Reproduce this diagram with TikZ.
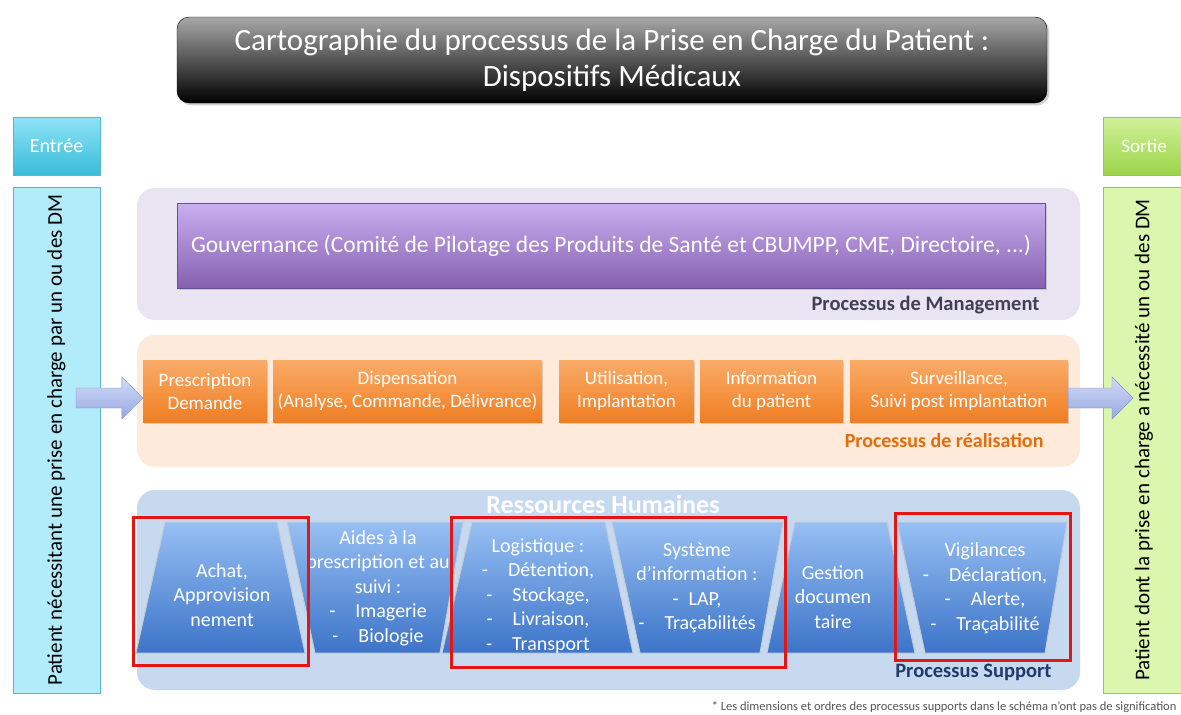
\documentclass[tikz,border=0pt]{standalone}
\usepackage{fontspec}
\setmainfont{Carlito}
\usepackage{tikz}
\usetikzlibrary{calc,shadows,positioning}

\definecolor{titletop}{HTML}{A8A8A8}
\definecolor{inedge}{HTML}{58B7CC}
\definecolor{infill}{HTML}{B2ECFA}
\definecolor{entreetop}{HTML}{8FE3F6}
\definecolor{entreebot}{HTML}{38BCD9}
\definecolor{outedge}{HTML}{98C45A}
\definecolor{outfill}{HTML}{DBF6AD}
\definecolor{sortietop}{HTML}{CFF19A}
\definecolor{sortiebot}{HTML}{9DD44A}
\definecolor{mgtband}{HTML}{E9E4F1}
\definecolor{realband}{HTML}{FDEADB}
\definecolor{suppband}{HTML}{C7D9EF}
\definecolor{gouvtop}{HTML}{C9AFF0}
\definecolor{gouvbot}{HTML}{8660B0}
\definecolor{gouvedge}{HTML}{6B4F94}
\definecolor{oratop}{HTML}{F9AB68}
\definecolor{orabot}{HTML}{F07E22}
\definecolor{supptop}{HTML}{97BFF3}
\definecolor{suppbot}{HTML}{3C74C8}
\definecolor{gapgray}{HTML}{C3CBD6}
\definecolor{arrowtop}{HTML}{D2DAF6}
\definecolor{arrowbot}{HTML}{98A9E2}
\definecolor{arrowedge}{HTML}{8193CC}
\definecolor{mgttext}{HTML}{403F55}
\definecolor{realtext}{HTML}{E46C0A}
\definecolor{supptext}{HTML}{1F3A6B}
\definecolor{redline}{HTML}{E31515}
\definecolor{notegray}{HTML}{555555}

\tikzset{
  titlebox/.style={rounded corners=12pt, draw=black, top color=titletop, bottom color=black,
    text=white, align=center, minimum width=870pt, minimum height=86pt,
    font=\fontsize{31}{36}\selectfont, drop shadow={opacity=0.35}},
  headin/.style={draw=inedge, top color=entreetop, bottom color=entreebot, text=white,
    minimum width=87pt, minimum height=58pt, font=\fontsize{20}{22}\selectfont},
  headout/.style={draw=outedge, top color=sortietop, bottom color=sortiebot, text=white,
    minimum width=82pt, minimum height=58pt, font=\fontsize{19}{22}\selectfont},
  sidebox/.style={rotate=90, minimum width=506pt, font=\fontsize{21}{24}\selectfont},
  band/.style={rounded corners=18pt, minimum width=943pt},
  gouvbox/.style={draw=gouvedge, top color=gouvtop, bottom color=gouvbot, text=white,
    minimum width=868pt, minimum height=85pt, font=\fontsize{23.5}{27}\selectfont,
    drop shadow={opacity=0.3}},
  realbox/.style={top color=oratop, bottom color=orabot, text=white, align=center,
    minimum height=62pt, inner sep=1pt, font=\fontsize{19}{23}\selectfont,
    drop shadow={opacity=0.25, shadow xshift=1pt, shadow yshift=-1.5pt}},
  supp/.style={top color=supptop, bottom color=suppbot, draw=gapgray, line width=1pt},
  supplabel/.style={text=white, align=center, inner sep=0pt, font=\fontsize{20}{24.5}\selectfont},
  bandlabel/.style={anchor=east, font=\fontsize{20.5}{22}\selectfont\bfseries},
  redbox/.style={draw=redline, line width=3pt},
  arrowfill/.style={draw=arrowedge, top color=arrowtop, bottom color=arrowbot},
}

% block arrow from tail coordinate to tip coordinate
\newcommand{\fatarrow}[2]{%
  \shade[arrowfill] ($(#1)+(0,-10)$) -- ($(#2)+(-21,-10)$) -- ($(#2)+(-21,-21)$) -- (#2)
    -- ($(#2)+(-21,21)$) -- ($(#2)+(-21,10)$) -- ($(#1)+(0,10)$) -- cycle;}

\begin{document}
\begin{tikzpicture}[x=1pt, y=-1pt]
  \useasboundingbox[fill=white] (0,0) rectangle (1181,715);

  % title
  \node[titlebox] (title) at (612,60)
    {Cartographie du processus de la Prise en Charge du Patient :\\Dispositifs Médicaux};

  % input / output
  \node[headin] (entree) at (56.5,146) {Entrée};
  \node[sidebox, draw=inedge, fill=infill, minimum height=87pt] (patin) at (56.5,440)
    {Patient nécessitant une prise en charge par un ou des DM};
  \node[headout] (sortie) at (1144,146) {Sortie};
  \node[sidebox, draw=outedge, fill=outfill, minimum height=82pt] (patout) at (1144,440)
    {Patient dont la prise en charge a nécessité un ou des DM};

  % management
  \node[band, fill=mgtband, minimum height=132pt] (mgt) at (608.5,254) {};
  \node[gouvbox] (gouv) at (611,245.5)
    {Gouvernance (Comité de Pilotage des Produits de Santé et CBUMPP, CME, Directoire, ...)};
  \node[bandlabel, text=mgttext] (mgtlab) at (1043,305) {Processus de Management};

  % realisation
  \node[band, fill=realband, minimum height=132pt] (real) at (608.5,401) {};
  \node[realbox, minimum width=124pt] (pres) at (205,391) {Prescription\\Demande};
  \node[realbox, minimum width=269pt] (disp) at (407.5,391) {Dispensation\\(Analyse, Commande, Délivrance)};
  \node[realbox, minimum width=135pt] (util) at (626.5,391) {Utilisation,\\Implantation};
  \node[realbox, minimum width=143pt] (info) at (771.5,391) {Information\\du patient};
  \node[realbox, minimum width=218pt] (surv) at (959,391) {Surveillance,\\Suivi post implantation};
  \node[bandlabel, text=realtext, font=\fontsize{20}{22}\selectfont\bfseries] (reallab) at (1047,441) {Processus de réalisation};

  % arrows in / out
  \coordinate (intail) at (76,398);
  \coordinate (intip) at (pres.west |- intail);
  \fatarrow{intail}{intip}
  \coordinate (outtail) at (surv.east |- intail);
  \coordinate (outtip) at (1133,398);
  \fatarrow{outtail}{outtip}

  % support
  \node[band, fill=suppband, minimum height=200pt] (supp) at (608.5,590) {};
  \node[text=white, font=\fontsize{26}{28}\selectfont\bfseries] (rh) at (603,504) {Ressources Humaines};
  \shade[supp] (165,522) -- (277,522) -- (305,653) -- (136,653) -- cycle;
  \shade[supp] (287,522) -- (463,522) -- (440,653) -- (315,653) -- cycle;
  \shade[supp] (472,522) -- (605,522) -- (633,653) -- (442,653) -- cycle;
  \shade[supp] (612,522) -- (783,522) -- (760,653) -- (640,653) -- cycle;
  \shade[supp] (795,522) -- (887,522) -- (915,653) -- (767,653) -- cycle;
  \shade[supp] (897,522) -- (1067,522) -- (1045,653) -- (925,653) -- cycle;
  \node[supplabel] (achat) at (222,595) {Achat,\\Approvision\\nement};
  \node[supplabel] (aides) at (378,588) {Aides à la\\prescription et au\\suivi :\\-\quad Imagerie\\-\quad Biologie};
  \node[supplabel] (logist) at (538,596) {Logistique :\\-\quad Détention,\\-\quad Stockage,\\-\quad Livraison,\\-\quad Transport};
  \node[supplabel] (sysinfo) at (697,588) {Système\\d’information :\\-\enspace LAP,\\-\quad Traçabilités};
  \node[supplabel] (gestion) at (833,597) {Gestion\\documen\\taire};
  \node[supplabel] (vigil) at (985,588) {Vigilances\\-\quad Déclaration,\\-\quad Alerte,\\-\quad Traçabilité};
  \node[bandlabel, text=supptext, font=\fontsize{20.5}{23}\selectfont\bfseries] (supplab) at (1055,672) {Processus Support};

  % highlighted groups
  \draw[redbox] (133,517) rectangle (308,665);
  \draw[redbox] (451,517) rectangle (785,667);
  \draw[redbox] (895,513) rectangle (1070,660);

  % footnote
  \node[anchor=east, text=notegray, font=\fontsize{12.5}{14}\selectfont] (note) at (1180,707)
    {* Les dimensions et ordres des processus supports dans le schéma n’ont pas de signification};
\end{tikzpicture}
\end{document}
